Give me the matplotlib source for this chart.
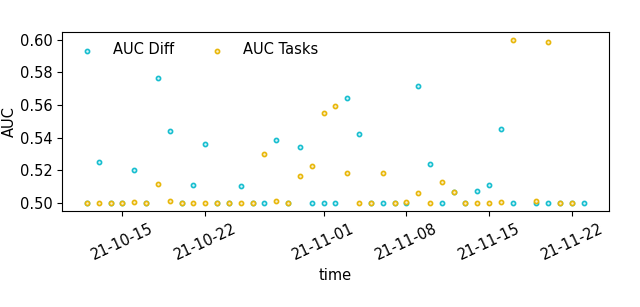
import matplotlib
matplotlib.use("Agg")
import matplotlib.pyplot as plt
import matplotlib.dates as mdates
import pandas as pd

diff_dates = pd.to_datetime(
    [f"2021-10-{d:02d}" for d in range(12, 32)]
    + [f"2021-11-{d:02d}" for d in range(1, 18)]
    + [f"2021-11-{d:02d}" for d in range(19, 24)])
auc_diff = [0.5, 0.525, 0.5, 0.5, 0.520, 0.5, 0.5767, 0.5438, 0.5, 0.5112,
            0.5363, 0.5, 0.5, 0.5102, 0.5, 0.5, 0.5383, 0.5, 0.5345, 0.5,
            0.5, 0.5, 0.5641, 0.5424, 0.5, 0.5, 0.5, 0.5, 0.5716, 0.5239,
            0.5, 0.5069, 0.5, 0.5075, 0.5108, 0.5451, 0.5,
            0.5, 0.5, 0.5, 0.5, 0.5]

task_dates = pd.to_datetime(
    [f"2021-10-{d:02d}" for d in range(12, 32)]
    + [f"2021-11-{d:02d}" for d in range(1, 18)]
    + [f"2021-11-{d:02d}" for d in range(19, 23)])
auc_tasks = [0.5, 0.5, 0.5, 0.5, 0.5005, 0.5, 0.5116, 0.501, 0.5, 0.5,
             0.5, 0.5, 0.5, 0.5, 0.5, 0.530, 0.501, 0.5, 0.5167, 0.5227,
             0.5551, 0.5596, 0.5181, 0.5, 0.5, 0.5181, 0.5, 0.5005, 0.5059, 0.5,
             0.5130, 0.5069, 0.5, 0.5, 0.5, 0.5005, 0.5996,
             0.501, 0.5984, 0.5, 0.5]

cyan = "#17becf"
gold = "#e8b70a"

fig = plt.figure(figsize=(6.4, 3.07), dpi=100)
ax = fig.add_axes([0.097, 0.313, 0.854, 0.582])

ax.scatter(diff_dates, auc_diff, s=9, facecolor="#d9f6fa", edgecolor=cyan,
           linewidths=1.2, label="AUC Diff", zorder=2)
ax.scatter(task_dates, auc_tasks, s=9, facecolor="#fbf0c8", edgecolor=gold,
           linewidths=1.2, label="AUC Tasks", zorder=3)

ax.xaxis.set_major_locator(mdates.DayLocator(bymonthday=[1, 8, 15, 22]))
ax.xaxis.set_major_formatter(mdates.DateFormatter("%y-%m-%d"))
ax.set_yticks([0.50, 0.52, 0.54, 0.56, 0.58, 0.60])
ax.tick_params(axis="both", labelsize=10.5)
plt.setp(ax.get_xticklabels(), rotation=25, ha="center")

ax.set_xlabel("time", fontsize=10.5)
ax.set_ylabel("AUC", fontsize=10.5, labelpad=2)

ax.legend(loc="upper left", ncol=2, frameon=False, fontsize=10.5,
          markerscale=1.0, handletextpad=0.8, columnspacing=1.9,
          borderaxespad=0.3)

fig.savefig("out.png", dpi=100)
